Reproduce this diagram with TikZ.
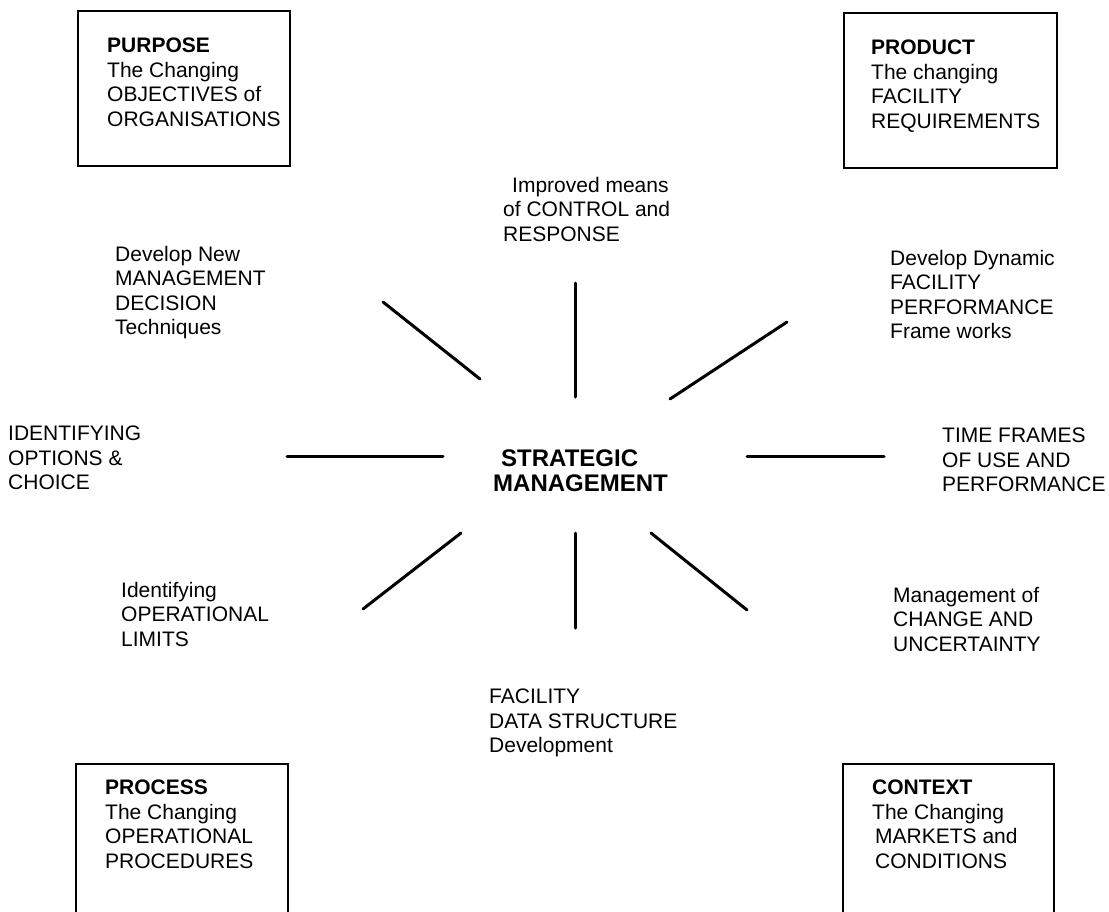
\documentclass[tikz,border=0pt]{standalone}
\usepackage{fontspec}
\setmainfont{Liberation Sans}
\begin{document}
\begin{tikzpicture}[x=1pt,y=-1pt,
  framebox/.style={draw=black, line width=2pt, rectangle, inner sep=0pt, anchor=north west},
  lbl/.style={anchor=north west, inner sep=0pt, align=left, font=\fontsize{21}{24.5}\selectfont},
  centre/.style={anchor=north west, inner sep=0pt, align=left, font=\fontsize{24}{25}\selectfont\bfseries},
  spoke/.style={line width=3pt, line cap=round}]
\useasboundingbox (0,0) rectangle (1109,911);
\clip (0,0) rectangle (1109,911);
% boxes
\node[framebox, minimum width=212pt, minimum height=155pt] (purpose) at (77,10) {};
\node[framebox, minimum width=213pt, minimum height=155pt] (product) at (843,12) {};
\node[framebox, minimum width=212pt, minimum height=180pt] (process) at (75,763) {};
\node[framebox, minimum width=211pt, minimum height=180pt] (context) at (842,763) {};
% box texts
\node[lbl] (purposeT) at (107,38) {\textbf{PURPOSE}\\The Changing\\OBJECTIVES of\\ORGANISATIONS};
\node[lbl] (productT) at (871,40) {\textbf{PRODUCT}\\The changing\\FACILITY\\REQUIREMENTS};
\node[lbl] (processT) at (105,780) {\textbf{PROCESS}\\The Changing\\OPERATIONAL\\PROCEDURES};
\node[lbl] (contextT) at (872,780) {\textbf{CONTEXT}\\The Changing\\\hspace*{3pt}MARKETS and\\\hspace*{3pt}CONDITIONS};
% centre
\node[centre] (sm) at (493,449.5) {\hspace*{8pt}STRATEGIC\\MANAGEMENT};
% labels
\node[lbl] (improved) at (503,177) {\hspace*{9pt}Improved means\\of CONTROL and\\RESPONSE};
\node[lbl] (devnew) at (115,246) {Develop New\\MANAGEMENT\\DECISION\\Techniques};
\node[lbl] (devdyn) at (890,250) {Develop Dynamic\\FACILITY\\PERFORMANCE\\Frame works};
\node[lbl] (identopt) at (8,426) {IDENTIFYING\\OPTIONS \&\\CHOICE};
\node[lbl] (timefr) at (942,428) {TIME FRAMES\\OF USE AND\\PERFORMANCE};
\node[lbl] (identlim) at (121,582) {Identifying\\OPERATIONAL\\LIMITS};
\node[lbl] (mgmt) at (893,587) {Management of\\CHANGE AND\\UNCERTAINTY};
\node[lbl] (facil) at (489,689) {FACILITY\\DATA STRUCTURE\\Development};
% spokes
\coordinate (ula) at (383,302); \coordinate (ulb) at (480,379);
\coordinate (ta) at (575,283); \coordinate (tb) at (575,397);
\coordinate (ura) at (670,399); \coordinate (urb) at (787,322);
\coordinate (la) at (287,456); \coordinate (lb) at (443,456);
\coordinate (ra) at (747,456); \coordinate (rb) at (884,456);
\coordinate (lla) at (363,609); \coordinate (llb) at (461,533);
\coordinate (ba) at (575,533); \coordinate (bb) at (575,628);
\coordinate (lra) at (651,533); \coordinate (lrb) at (747,610);
\draw[spoke] (ula) -- (ulb);
\draw[spoke] (ta) -- (tb);
\draw[spoke] (ura) -- (urb);
\draw[spoke] (la) -- (lb);
\draw[spoke] (ra) -- (rb);
\draw[spoke] (lla) -- (llb);
\draw[spoke] (ba) -- (bb);
\draw[spoke] (lra) -- (lrb);
\end{tikzpicture}
\end{document}
